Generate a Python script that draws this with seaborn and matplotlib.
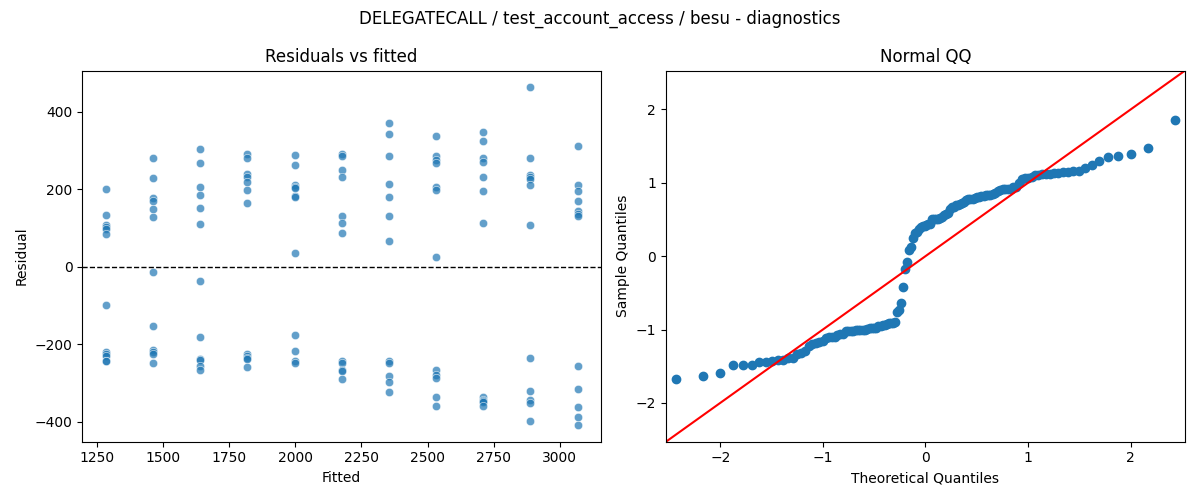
import numpy as np
import pandas as pd
import seaborn as sns
import matplotlib
matplotlib.use('Agg')
import matplotlib.pyplot as plt
from statistics import NormalDist

fitted_levels = [1282, 1461, 1639, 1818, 1997, 2175, 2354, 2532, 2711, 2889, 3068]

res_1282 = [200, 133, 108, 102, 98, 84, -98, -219, -225, -231, -242, -244]
res_1461 = [280, 228, 177, 170, 148, 129, -14, -152, -216, -221, -225, -248]
res_1639 = [303, 267, 205, 186, 151, 110, -37, -181, -237, -240, -257, -266]
res_1818 = [291, 282, 239, 232, 218, 198, 164, -224, -231, -236, -238, -259]
res_1997 = [288, 264, 211, 207, 203, 183, 181, 35, -176, -218, -244, -248]
res_2175 = [291, 287, 250, 232, 131, 112, 87, -242, -248, -266, -270, -289]
res_2354 = [370, 343, 285, 213, 179, 131, 66, -243, -248, -283, -297, -323]
res_2532 = [339, 286, 277, 267, 207, 198, 25, -266, -279, -287, -336, -360]
res_2711 = [349, 326, 282, 270, 231, 195, 112, -336, -343, -346, -350, -360]
res_2889 = [463, 282, 237, 231, 226, 210, 107, -236, -320, -345, -352, -398]
res_3068 = [311, 210, 196, 170, 145, 136, 131, -256, -315, -361, -388, -408]

groups = [res_1282, res_1461, res_1639, res_1818, res_1997, res_2175,
          res_2354, res_2532, res_2711, res_2889, res_3068]

df = pd.DataFrame({
    'fitted': np.repeat(fitted_levels, [len(g) for g in groups]),
    'resid': np.concatenate(groups),
})

# QQ: standardised sample quantiles vs normal plotting positions i/(n+1)
n = len(df)
sample_q = np.sort((df['resid'] - df['resid'].mean()) / df['resid'].std(ddof=0))
theo_q = np.array([NormalDist().inv_cdf(i / (n + 1)) for i in range(1, n + 1)])

fig, axes = plt.subplots(1, 2, figsize=(12, 5))

ax = axes[0]
sns.scatterplot(data=df, x='fitted', y='resid', alpha=0.7, ax=ax)
ax.axhline(0, color='black', linestyle='--', linewidth=1)
ax.set_title('Residuals vs fitted')
ax.set_xlabel('Fitted')
ax.set_ylabel('Residual')

ax = axes[1]
sns.scatterplot(x=theo_q, y=sample_q, s=36, color='C0', edgecolor='C0',
                linewidth=1, ax=ax)
lim = (-2.53, 2.53)
ax.plot(lim, lim, color='r')
ax.set_xlim(lim)
ax.set_ylim(lim)
ax.set_title('Normal QQ')
ax.set_xlabel('Theoretical Quantiles')
ax.set_ylabel('Sample Quantiles')

fig.suptitle('DELEGATECALL / test_account_access / besu - diagnostics')
plt.tight_layout()
plt.savefig('out.png', dpi=100)
